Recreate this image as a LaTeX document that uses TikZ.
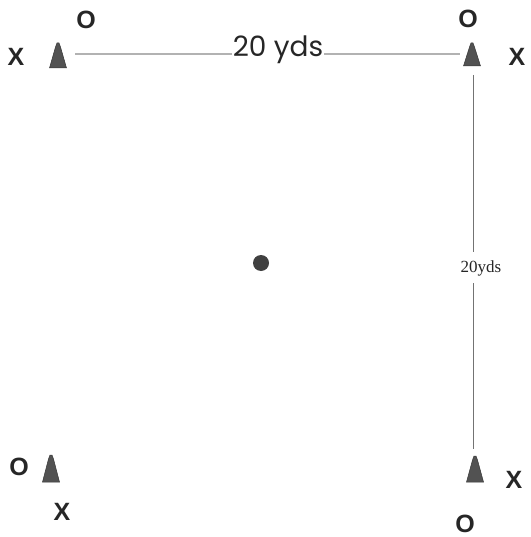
\documentclass[tikz,border=0pt]{standalone}
\usepackage{fontspec}
\setmainfont{Liberation Sans}
\newfontfamily\handfont{Poppins}
\newfontfamily\serifsmall{Liberation Serif}
\begin{document}
\begin{tikzpicture}[x=1pt,y=-1pt,
  playermark/.style={font=\fontsize{25}{25}\selectfont\bfseries, text=black!85, inner sep=0pt},
  conepath/.style={fill=black!68, draw=black!78, line width=0.5pt},
  dimline/.style={draw=black!30, line width=1.1pt},
  vline/.style={draw=black!55, line width=1pt}]
\useasboundingbox (0,0) rectangle (530,537);
% cones
\foreach \n/\cx/\ct/\cb in {TL/58/43/68, TR/472/43/66, BL/51/455/482, BR/475/456/482}{
  \fill[conepath] (\cx-8.5,\cb) -- (\cx-2.5,\ct+4) -- (\cx-1,\ct) -- (\cx+1,\ct) -- (\cx+2.5,\ct+4) -- (\cx+8.5,\cb) -- cycle;
}
% marks
\node[playermark] (xTL) at (16,57) {X};
\node[playermark] (oTL) at (86,20) {O};
\node[playermark] (oTR) at (468,19) {O};
\node[playermark] (xTR) at (517,57) {X};
\node[playermark] (oBL) at (19,467) {O};
\node[playermark] (xBL) at (62,512) {X};
\node[playermark] (xBR) at (514,480) {X};
\node[playermark] (oBR) at (465,524) {O};
% top dimension
\coordinate (hA) at (75,54);
\coordinate (hB) at (460,54);
\node[font=\handfont\fontsize{28}{28}\selectfont, text=black!85, inner sep=1pt] (htext) at (278,50) {20 yds};
\draw[dimline] (hA) -- (htext.west |- hA);
\draw[dimline] (htext.east |- hA) -- (hB);
% right dimension
\coordinate (vA) at (473,75);
\coordinate (vB) at (473,449);
\coordinate (vC) at (473,252);
\coordinate (vD) at (473,283);
\node[font=\serifsmall\fontsize{17}{17}\selectfont, text=black!85, inner sep=0pt] (vtext) at (481,268) {20yds};
\draw[vline] (vA) -- (vC);
\draw[vline] (vD) -- (vB);
% ball
\fill[black!75] (261,263) circle (8);
\end{tikzpicture}
\end{document}
